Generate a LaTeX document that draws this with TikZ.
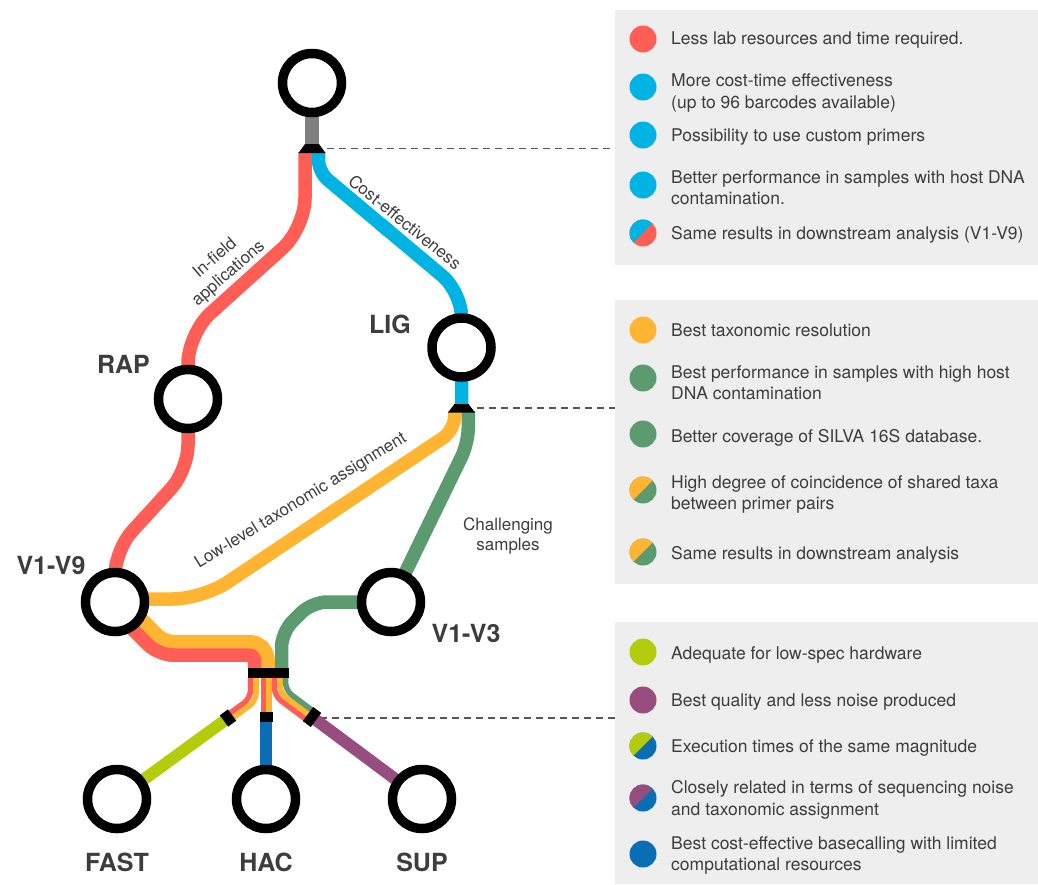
\documentclass[tikz,border=0pt]{standalone}
\usepackage{fontspec}
\setmainfont{TeX Gyre Heros}
\usetikzlibrary{calc}
\definecolor{cred}{HTML}{FF5E57}
\definecolor{cblue}{HTML}{00B3E3}
\definecolor{cyellow}{HTML}{FFB532}
\definecolor{cgreen}{HTML}{5B9B6F}
\definecolor{clime}{HTML}{B4CC0B}
\definecolor{cpurple}{HTML}{974E7E}
\definecolor{cdblue}{HTML}{0A6EB5}
\definecolor{cgrey}{HTML}{7F7F7F}
\definecolor{legbg}{HTML}{EEEEEF}
\definecolor{txt}{HTML}{3D3D3D}
\definecolor{dashc}{HTML}{555555}
\newcommand\legdot[3]{\fill[#3] (#1,#2) circle[radius=13.5pt];}
\newcommand\splitdot[4]{\begin{scope}\clip (#1,#2) circle[radius=13.5pt];
  \fill[#4] (#1,#2) ++(-15,-15) rectangle ++(30,30);
  \fill[#3] (#1,#2) ++(-15,15) -- ++(30,-30) -- ++(-30,0) -- cycle;\end{scope}}
\begin{document}
\begin{tikzpicture}[x=1pt,y=-1pt,
  metro/.style={line width=13.5pt},
  thinline/.style={line width=5.5pt},
  branch/.style={line width=12pt},
  ring/.style={circle, draw=black, line width=9.5pt, fill=white, minimum size=59pt, inner sep=0pt},
  stationlabel/.style={font=\fontsize{25}{30}\selectfont\bfseries, text=txt},
  linelabel/.style={font=\fontsize{17}{20.5}\selectfont, text=txt, align=center, inner sep=0pt},
  legtext/.style={font=\fontsize{17.5}{21.5}\selectfont, text=txt, anchor=base west, align=left, inner sep=0pt},
  leader/.style={dashc, line width=1.6pt, dash pattern=on 7pt off 5pt},
  tickmark/.style={line width=14pt, black}]
\useasboundingbox (0,0) rectangle (1038,884);
% ---------- coordinates
\coordinate (top) at (312,83);
\coordinate (rap) at (188,399);
\coordinate (lig) at (461.5,347.5);
\coordinate (v19) at (115,602);
\coordinate (v13) at (391,602);
\coordinate (fast) at (117,799);
\coordinate (hac) at (266,799);
\coordinate (sup) at (422,799);
\coordinate (ft) at (228,718);
\coordinate (ht) at (266,717);
\coordinate (st) at (312,717);
\coordinate (pA) at (161.25,648.25);
\coordinate (pB) at (261.25,648.25);
\coordinate (pE) at (261.25,669);
% ---------- legend boxes
\fill[legbg] (615,10) rectangle (1038,265);
\fill[legbg] (615,300) rectangle (1038,584);
\fill[legbg] (615,622) rectangle (1038,884);
\coordinate (b1) at (615,148.5);
\coordinate (b2) at (615,408);
\coordinate (b3) at (615,718);
\draw[leader] (327,148.5) -- (b1);
\draw[leader] (477,408) -- (b2);
\draw[leader] (320,718) -- (b3);
% ---------- metro lines
\draw[metro, cgrey, line width=14pt] (top) -- (312,144.5);
\draw[metro, cred, rounded corners=30pt] (305,152) -- (305,228) -- (188,333.5) -- (rap);
\draw[metro, cred, rounded corners=25pt] (rap) -- (188,470) -- (115,550) -- (v19);
\draw[metro, cblue, rounded corners=12pt] (318.5,152) -- (318.5,172) -- (390,232);
\draw[metro, cblue, rounded corners=25pt] (380,223.6) -- (461.5,292) -- (lig) -- (461.5,405);
\draw[metro, cyellow, rounded corners=30pt] (115,599) -- (202.5,599) -- (340,506.9);
\draw[metro, cyellow, rounded corners=14pt] (320,520.3) -- (454.75,430) -- (454.75,411);
\draw[metro, cgreen, rounded corners=15pt] (468.25,411) -- (468.25,443) -- (v13);
\draw[metro, cgreen, rounded corners=15pt] (v13) -- (312,602) -- (281.5,632.5) -- (281.5,669);
% pair red/yellow from V1-V9
\draw[cyellow, line width=27pt, rounded corners=12pt] (v19) -- (pA) -- (pB) -- (pE);
\begin{scope}
  \clip[rounded corners=12pt] (80,567) -- (v19) -- (pA) -- (pB) -- (pE) -- (261.25,720) -- (30,720) -- (30,567) -- cycle;
  \draw[cred, line width=27pt, rounded corners=12pt] (v19) -- (pA) -- (pB) -- (pE);
\end{scope}
% thin bundles below the bar
\draw[thinline, cred, rounded corners=8pt] (250.5,677) -- (250.5,698.2) -- (226.38,715.78);
\draw[thinline, cyellow, rounded corners=8pt] (256,677) -- (256,701) -- (229.62,720.22);
\draw[thinline, cred] (263.25,677) -- (263.25,717);
\draw[thinline, cyellow] (268.75,677) -- (268.75,717);
\draw[thinline, cred, rounded corners=8pt] (274.5,677) -- (274.5,695.9) -- (308.71,721.41);
\draw[thinline, cyellow, rounded corners=8pt] (280,677) -- (280,693.1) -- (st);
\draw[thinline, cgreen, rounded corners=8pt] (285.5,677) -- (285.5,690.3) -- (315.29,712.59);
\draw[branch, clime] (ft) -- (fast);
\draw[branch, cdblue] (ht) -- (hac);
\draw[branch, cpurple] (st) -- (sup);
% ---------- stations
\node[ring] (nTop) at (top) {};
\node[ring] (nRAP) at (rap) {};
\node[ring] (nLIG) at (lig) {};
\node[ring] (nV19) at (v19) {};
\node[ring] (nV13) at (v13) {};
\node[ring] (nFAST) at (fast) {};
\node[ring] (nHAC) at (hac) {};
\node[ring] (nSUP) at (sup) {};
% ---------- junction marks
\fill (305,144) -- (319,144) -- (325.5,153) -- (298.5,153) -- cycle;
\fill (454.5,404) -- (468.5,404) -- (475,412.5) -- (448,412.5) -- cycle;
\fill (247.5,668) rectangle (288.5,678);
\draw[tickmark] ($(ft)+(4.04,-2.95)$) -- ($(ft)+(-4.04,2.95)$);
\draw[tickmark, line width=13pt] (266,712) -- (266,722);
\draw[tickmark, line width=17.5pt] ($(st)+(-4.01,-2.99)$) -- ($(st)+(4.01,2.99)$);
% ---------- labels
\node[stationlabel] (lRAP) at (123.5,364) {RAP};
\node[stationlabel] (lLIG) at (390,324) {LIG};
\node[stationlabel] (lV19) at (51,565) {V1-V9};
\node[stationlabel] (lV13) at (466,633) {V1-V3};
\node[stationlabel] (lFAST) at (117,862) {FAST};
\node[stationlabel] (lHAC) at (266,862) {HAC};
\node[stationlabel] (lSUP) at (422,862) {SUP};
\node[linelabel, rotate=41] (tInfield) at (222,266) {In-field\\applications};
\node[linelabel, rotate=-39] (tCost) at (405,222) {Cost-effectiveness};
\node[linelabel, rotate=31.6] (tLow) at (301,501) {Low-level taxonomic assignment};
\node[linelabel] (tChal) at (508,536) {Challenging\\samples};
% ---------- legend 1
\legdot{643}{39}{cred}
\legdot{643}{87}{cblue}
\legdot{643}{135}{cblue}
\legdot{643}{185}{cblue}
\splitdot{643}{233}{cblue}{cred}
\node[legtext] (a1) at (671,44.6) {Less lab resources and time required.};
\node[legtext] (a2) at (671,108.3) {More cost-time effectiveness\\(up to 96 barcodes available)};
\node[legtext] (a3) at (671,141.5) {Possibility to use custom primers};
\node[legtext] (a4) at (671,204.8) {Better performance in samples with host DNA\\contamination.};
\node[legtext] (a5) at (671,239.5) {Same results in downstream analysis (V1-V9)};
% ---------- legend 2
\legdot{643}{330}{cyellow}
\legdot{643}{378}{cgreen}
\legdot{643}{434}{cgreen}
\splitdot{643}{490}{cyellow}{cgreen}
\splitdot{643}{552}{cyellow}{cgreen}
\node[legtext] (b1t) at (671,336.3) {Best taxonomic resolution};
\node[legtext] (b2t) at (671,399.8) {Best performance in samples with high host\\DNA contamination};
\node[legtext] (b3t) at (671,442) {Better coverage of SILVA 16S database.};
\node[legtext] (b4t) at (671,509.8) {High degree of coincidence of shared taxa\\between primer pairs};
\node[legtext] (b5t) at (671,559.6) {Same results in downstream analysis};
% ---------- legend 3
\legdot{643}{652}{clime}
\legdot{643}{700}{cpurple}
\splitdot{643}{746}{clime}{cdblue}
\splitdot{643}{798}{cpurple}{cdblue}
\legdot{643}{854}{cdblue}
\node[legtext] (c1t) at (671,659.6) {Adequate for low-spec hardware};
\node[legtext] (c2t) at (671,706.3) {Best quality and less noise produced};
\node[legtext] (c3t) at (671,752) {Execution times of the same magnitude};
\node[legtext] (c4t) at (671,815.3) {Closely related in terms of sequencing noise\\and taxonomic assignment};
\node[legtext] (c5t) at (671,870.6) {Best cost-effective basecalling with limited\\computational resources};
\end{tikzpicture}
\end{document}
